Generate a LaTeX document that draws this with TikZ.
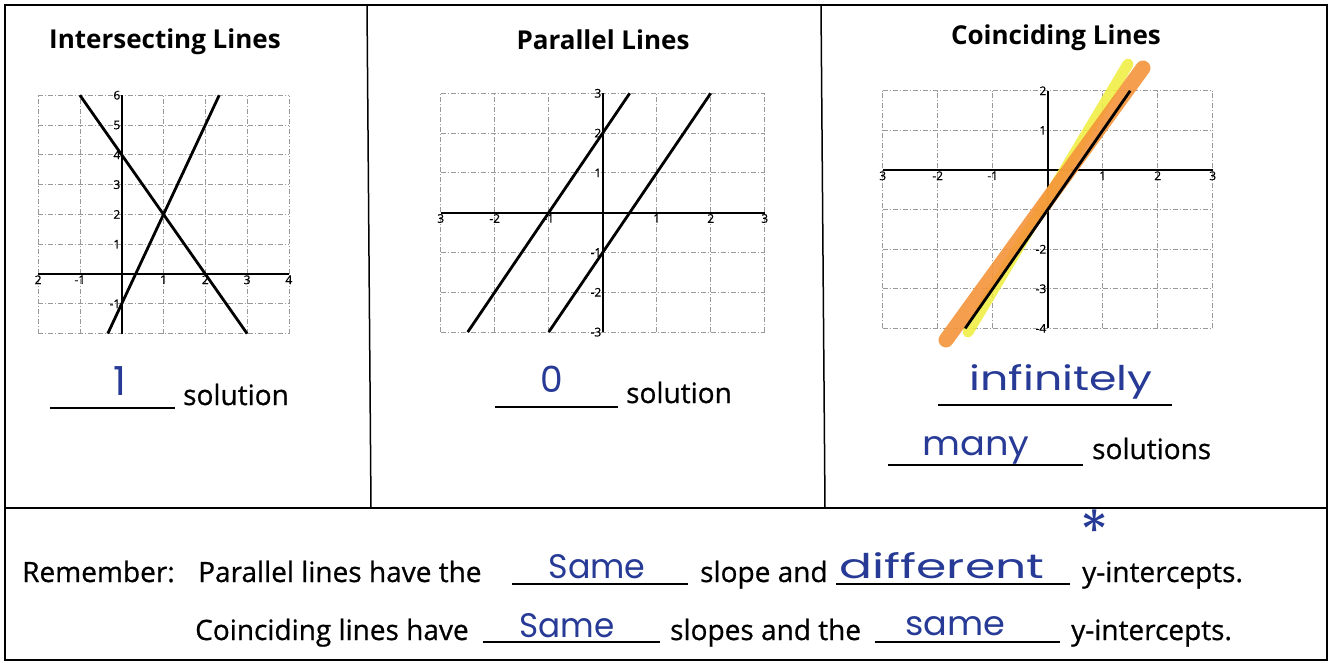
\documentclass[tikz,border=0pt]{standalone}
\usepackage{fontspec}
\setmainfont{Open Sans}
\newfontfamily\bodyfont[FakeBold=0.7]{Open Sans}
\newfontfamily\handfont{Poppins}
\definecolor{ink}{RGB}{38,58,150}
\definecolor{hlorange}{RGB}{244,148,58}
\definecolor{hlyellow}{RGB}{240,238,60}
\newcommand\hw[2]{\resizebox{#1}{\height}{#2}}
\begin{document}
\begin{tikzpicture}[x=1pt,y=-1pt,
  frameline/.style={line width=1.5pt,black},
  gridl/.style={gray!80,line width=0.8pt,dash pattern=on 5pt off 2pt on 1pt off 2pt},
  axisl/.style={black,line width=1.8pt},
  graphl/.style={black,line width=2.8pt},
  tick/.style={font=\bodyfont\fontsize{12}{12}\selectfont,inner sep=1.2pt},
  title/.style={font=\fontsize{26}{30}\selectfont\bfseries,anchor=center},
  body/.style={font=\bodyfont\fontsize{28}{30}\selectfont,anchor=base west,inner sep=0pt},
  hand/.style={font=\handfont\fontsize{34}{38}\selectfont,text=ink,anchor=base,inner sep=0pt},
  blank/.style={black,line width=1.4pt}]
\useasboundingbox (0,0) rectangle (1331,663);
\fill[white] (0,0) rectangle (1331,663);
% frame
\draw[frameline] (5,5) rectangle (1327,660);
\draw[frameline] (5,508) -- (1327,508);
\draw[frameline] (367,5) -- (371,508);
\draw[frameline] (821,5) -- (825,508);
% titles
\node[title] (t1) at (165,42) {Intersecting Lines};
\node[title] (t2) at (603,40) {Parallel Lines};
\node[title] (t3) at (1056,38) {Coinciding Lines};
% ---------- graph 1
\begin{scope}[shift={(121.7,274)},x=41.8pt,y=29.8pt]
  \foreach \i in {-2,...,4} \draw[gridl] (\i,-2) -- (\i,6);
  \foreach \j in {-2,...,6} \draw[gridl] (-2,\j) -- (4,\j);
  \draw[axisl] (-2,0) -- (4,0);
  \draw[axisl] (0,-2) -- (0,6);
  \draw[graphl] (-1,6) -- (3,-2);
  \draw[graphl] (-1/3,-2) -- (7/3,6);
  \foreach \j in {-1,1,2,3,4,5,6} \node[tick,left] (ga\j) at (0,\j) {\j};
  \foreach \i in {-1,1,2,3} \node[tick,below] (gb\i) at (\i,0) {\i};
  \node[tick,below] (gbl) at (-2,0) {2};
  \node[tick,below] (gbr) at (4,0) {4};
\end{scope}
% ---------- graph 2
\begin{scope}[shift={(602.7,212.7)},x=54pt,y=39.8pt]
  \foreach \i in {-3,...,3} \draw[gridl] (\i,-3) -- (\i,3);
  \foreach \j in {-3,...,3} \draw[gridl] (-3,\j) -- (3,\j);
  \draw[axisl] (-3,0) -- (3,0);
  \draw[axisl] (0,-3) -- (0,3);
  \draw[graphl] (-2.5,-3) -- (0.5,3);
  \draw[graphl] (-1,-3) -- (2,3);
  \foreach \j in {-3,-2,-1,1,2,3} \node[tick,left] (gc\j) at (0,\j) {\j};
  \foreach \i in {-2,-1,1,2} \node[tick,below] (gd\i) at (\i,0) {\i};
  \node[tick,below] (gdl) at (-3,0) {3};
  \node[tick,below] (gdr) at (3,0) {3};
\end{scope}
% ---------- graph 3
\begin{scope}[shift={(1047.7,170)},x=55pt,y=39.6pt]
  \foreach \i in {-3,...,3} \draw[gridl] (\i,-4) -- (\i,2);
  \foreach \j in {-4,...,2} \draw[gridl] (-3,\j) -- (3,\j);
  \draw[axisl] (-3,0) -- (3,0);
  \draw[axisl] (0,-4) -- (0,2);
  \foreach \j in {-4,-3,-2,-1,1,2} \node[tick,left] (ge\j) at (0,\j) {\j};
  \foreach \i in {-2,-1,1,2} \node[tick,below] (gf\i) at (\i,0) {\i};
  \node[tick,below] (gfl) at (-3,0) {3};
  \node[tick,below] (gfr) at (3,0) {3};
\end{scope}
\draw[hlyellow,line width=11pt,line cap=round,opacity=0.85] (968,332) -- (1128,64);
\draw[hlorange,line width=15pt,line cap=round,opacity=0.9] (946,340) -- (1143,68);
\begin{scope}[shift={(1047.7,170)},x=55pt,y=39.6pt]
  \draw[graphl] (-1.5,-4) -- (1.5,2);
\end{scope}
% ---------- answers panels
\draw[blank] (50,408) -- (175,408);
\node[hand,font=\handfont\fontsize{40}{44}\selectfont] (a1) at (120,395) {1};
\node[body] (s1) at (183,405) {solution};
\draw[blank] (495,407) -- (618,407);
\node[hand,font=\handfont\fontsize{36}{40}\selectfont] (a2) at (552,392) {0};
\node[body] (s2) at (626,403) {solution};
\draw[blank] (938,405) -- (1172,405);
\node[hand] (a3) at (1061,390) {\hw{183pt}{infinitely}};
\draw[blank] (888,465) -- (1083,465);
\node[hand] (a4) at (976,455) {\hw{107pt}{many}};
\node[body] (s3) at (1092,459) {solutions};
% ---------- bottom
\node[body] (r1) at (22,582) {Remember:};
\node[body] (r2) at (198,582) {Parallel lines have the};
\draw[blank] (512,584) -- (688,584);
\node[hand] (r3) at (597,578) {\hw{97pt}{Same}};
\node[body] (r4) at (700,582) {slope and};
\draw[blank] (836,584) -- (1070,584);
\node[hand] (r5) at (942,578) {\hw{205pt}{different}};
\node[font=\handfont\fontsize{58}{58}\selectfont,text=ink,inner sep=0pt,anchor=center] (ast) at (1095,531) {*};
\node[body] (r6) at (1082,582) {y-intercepts.};
\node[body] (c1) at (195,640) {Coinciding lines have};
\draw[blank] (483,642) -- (660,642);
\node[hand] (c2) at (567,637) {\hw{95pt}{Same}};
\node[body] (c3) at (670,640) {slopes and the};
\draw[blank] (875,642) -- (1060,642);
\node[hand] (c4) at (955,635) {\hw{100pt}{same}};
\node[body] (c5) at (1071,640) {y-intercepts.};
\end{tikzpicture}
\end{document}
